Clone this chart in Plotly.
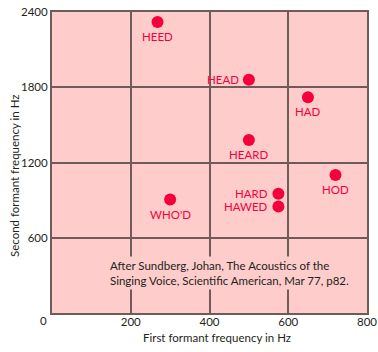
import plotly.graph_objects as go

vowels = ["HEED", "HEAD", "HAD", "HEARD", "HOD", "HARD", "HAWED", "WHO'D"]
f1 = [268, 500, 650, 500, 720, 575, 575, 300]
f2 = [2320, 1860, 1720, 1380, 1100, 950, 850, 905]
label_side = ["below", "left", "below", "below", "below", "left", "left", "below"]
x_ticks = [200, 400, 600, 800]
y_ticks = [600, 1200, 1800, 2400]

grid = "#6e5c59"
red = "#f5003a"
ink = "#231f20"
font = "Lato"
fs = 11.5

fig = go.Figure()
fig.add_trace(go.Scatter(
    x=f1, y=f2, mode="markers",
    marker=dict(size=12, color=red),
    cliponaxis=False, hoverinfo="skip", showlegend=False,
))

for name, x, y, side in zip(vowels, f1, f2, label_side):
    if side == "left":
        fig.add_annotation(x=x, y=y, text=name, showarrow=False,
                           xanchor="right", yanchor="middle", xshift=-8,
                           font=dict(size=fs, color=red, family=font))
    else:
        fig.add_annotation(x=x, y=y, text=name, showarrow=False,
                           xanchor="center", yanchor="top", yshift=-6,
                           font=dict(size=fs, color=red, family=font))

fig.add_annotation(
    x=(107 - 52) / 315, y=(313 - 272.5) / 301, xref="paper", yref="paper",
    xanchor="left", yanchor="middle",
    text="After Sundberg, Johan, The Acoustics of the<br>Singing Voice, Scientific American, Mar 77, p82.",
    showarrow=False, align="left", bgcolor="#ffcccc", borderpad=2,
    font=dict(size=fs, color=ink, family=font),
)
fig.add_annotation(
    x=0, y=0, xref="paper", yref="paper", xanchor="right", yanchor="top",
    xshift=-3, yshift=1, text="0", showarrow=False,
    font=dict(size=fs, color=ink, family=font),
)
fig.add_annotation(
    x=(217 - 52) / 315, y=(313 - 337) / 301, xref="paper", yref="paper",
    xanchor="center", yanchor="middle", text="First formant frequency in Hz",
    showarrow=False, font=dict(size=fs, color=ink, family=font),
)
fig.add_annotation(
    x=(14 - 52) / 315, y=(313 - 176) / 301, xref="paper", yref="paper",
    xanchor="center", yanchor="middle", text="Second formant frequency in Hz",
    textangle=-90, showarrow=False, font=dict(size=fs, color=ink, family=font),
)

fig.update_xaxes(
    range=[0, 800], tickvals=x_ticks, showgrid=True, gridcolor=grid, gridwidth=2,
    showline=True, linecolor=grid, linewidth=2, mirror=True, zeroline=False,
    ticks="", automargin=False, ticklabelstandoff=-3,
    tickfont=dict(size=fs, color=ink, family=font),
)
fig.update_yaxes(
    range=[0, 2400], tickvals=y_ticks, showgrid=True, gridcolor=grid, gridwidth=2,
    showline=True, linecolor=grid, linewidth=2, mirror=True, zeroline=False,
    ticks="", automargin=False,
    tickfont=dict(size=fs, color=ink, family=font),
)
fig.update_layout(
    width=378, height=352, margin=dict(l=52, r=11, t=12, b=39),
    plot_bgcolor="#ffcccc", paper_bgcolor="white",
)
fig.write_html("out.html")
